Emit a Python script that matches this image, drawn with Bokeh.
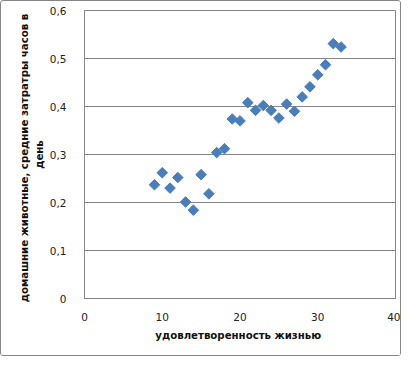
import math
from bokeh.plotting import figure
from bokeh.models import FixedTicker, CustomJSTickFormatter, Range1d
from bokeh.embed import file_html
from bokeh.resources import INLINE

satisfaction = [9, 10, 11, 12, 13, 14, 15, 16, 17, 18, 19, 20, 21, 22, 23, 24, 25,
                26, 27, 28, 29, 30, 31, 32, 33]
pet_hours = [0.237, 0.262, 0.230, 0.252, 0.201, 0.184, 0.258, 0.218, 0.304, 0.312,
             0.374, 0.370, 0.408, 0.392, 0.402, 0.392, 0.376, 0.405, 0.390, 0.420,
             0.441, 0.466, 0.487, 0.531, 0.524]
x_ticks = [0, 10, 20, 30, 40]
y_ticks = [0, 0.1, 0.2, 0.3, 0.4, 0.5, 0.6]

x_title = "удовлетворенность  жизнью"
y_title = "домашние  животные,  средние затратры часов в\nдень"

grey = "#868686"
font = "DejaVu Sans"

p = figure(width=401, height=356, output_backend="svg", toolbar_location=None,
           x_range=Range1d(0, 40), y_range=Range1d(0, 0.6),
           min_border_left=83, min_border_right=7, min_border_top=9, min_border_bottom=59)
p.styles = {"border": "1px solid #868686", "border-radius": "3px", "box-sizing": "border-box"}

p.outline_line_color = grey
p.outline_line_width = 1
p.background_fill_color = "white"
p.border_fill_color = "white"

p.xgrid.visible = False
p.ygrid.grid_line_color = grey
p.ygrid.grid_line_width = 1

p.xaxis.ticker = FixedTicker(ticks=x_ticks)
p.yaxis.ticker = FixedTicker(ticks=y_ticks)
p.yaxis.formatter = CustomJSTickFormatter(code="""
    if (Math.abs(tick) < 1e-9) return '0';
    return tick.toFixed(1).replace('.', ',');
""")

for ax in (p.xaxis[0], p.yaxis[0]):
    ax.axis_line_color = grey
    ax.major_tick_line_color = None
    ax.minor_tick_line_color = None
    ax.major_label_text_font = font
    ax.major_label_text_font_size = "10.5px"
    ax.major_label_text_color = "#222222"
    ax.axis_label_text_font = font
    ax.axis_label_text_font_style = "bold"
    ax.axis_label_text_font_size = "10.2px"
    ax.axis_label_text_color = "#111111"

p.xaxis.axis_label = x_title
p.yaxis.axis_label = y_title
p.xaxis.major_label_standoff = 8
p.xaxis.axis_label_standoff = 6
p.yaxis.major_label_standoff = 12
p.yaxis.axis_label_standoff = 2
p.yaxis.axis_label_text_line_height = 1.3

p.scatter(satisfaction, pet_hours, marker="square", size=7.5, angle=math.pi / 4,
          fill_color="#4A7EBB", line_color="#4A7EBB", line_width=1)

open("out.html", "w").write(file_html(p, INLINE))
